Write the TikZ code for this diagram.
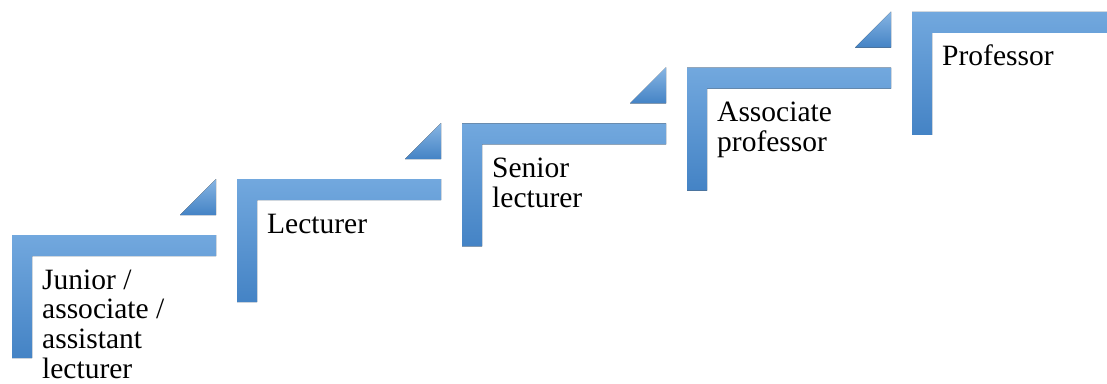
\documentclass[tikz,border=0pt]{standalone}
\usepackage{fontspec}
\setmainfont{Liberation Serif}
\usepackage{xcolor}
\definecolor{Col1}{RGB}{114,168,222}
\definecolor{Col2}{RGB}{68,131,197}
\usepackage{tikz}
\tikzstyle{Step}=[top color=Col1,bottom color=Col2,draw=none]
\tikzstyle{Arrow}=[top color=Col1!85!white,bottom color=Col2,draw=none]
\tikzstyle{NodeST}=[anchor=base west,inner sep=0pt,align=left,
font=\fontsize{29.5}{29.7}\selectfont]

\begin{document}
\begin{tikzpicture}[x=1pt,y=-1pt]
            \useasboundingbox (0,0) rectangle (1107,383);
            \clip (0,0) rectangle (1107,383);
            \fill[Step](12,235)--(216,235)--(216,256)--(32,256)
                --(32,358)--(12,358)--cycle;
            \fill[Step](237,179.2)--(441,179.2)--(441,200.2)--(257,200.2)
                --(257,302.2)--(237,302.2)--cycle;
            \fill[Step](462,123.4)--(666,123.4)--(666,144.4)--(482,144.4)
                --(482,246.4)--(462,246.4)--cycle;
            \fill[Step](687,67.6)--(891,67.6)--(891,88.6)--(707,88.6)
                --(707,190.6)--(687,190.6)--cycle;
            \fill[Step](912,11.8)--(1116,11.8)--(1116,32.8)--(932,32.8)
                --(932,134.8)--(912,134.8)--cycle;
            %
            \fill[Arrow](180,215)--(216,215)--(216,179)--cycle;
            \fill[Arrow](405,159.2)--(441,159.2)--(441,123.2)--cycle;
            \fill[Arrow](630,103.4)--(666,103.4)--(666,67.4)--cycle;
            \fill[Arrow](855,47.6)--(891,47.6)--(891,11.6)--cycle;
            %
            \node[NodeST](1)at(42,378.1)
                {Junior /\\associate /\\assistant\\lecturer};
            \node[NodeST](2)at(267,233.2){Lecturer};
            \node[NodeST](3)at(492,207.1){Senior\\lecturer};
            \node[NodeST](4)at(717,151.3){Associate\\professor};
            \node[NodeST](5)at(942,65.8){Professor};
        \end{tikzpicture}
\end{document}
